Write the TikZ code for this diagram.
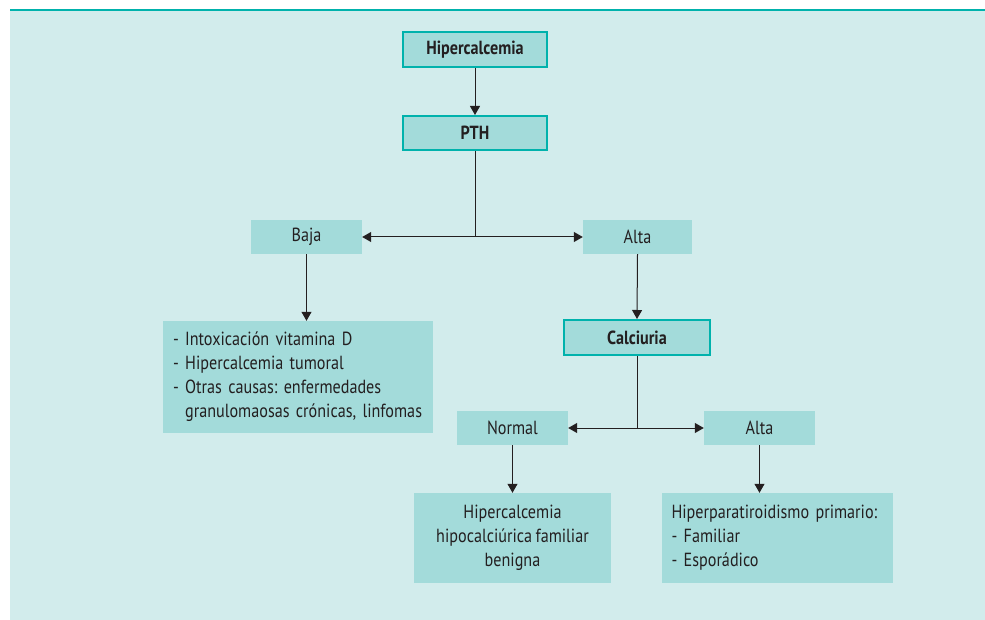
\documentclass[tikz,border=0pt]{standalone}
\usepackage{fontspec}
\setmainfont{PT Sans}[FakeStretch=0.85, WordSpace=0.8]
\usetikzlibrary{arrows.meta}
\definecolor{bgc}{HTML}{D2ECEC}
\definecolor{boxc}{HTML}{A3DBDA}
\definecolor{tealc}{HTML}{00B2AC}
\definecolor{txtc}{HTML}{231F20}
\frenchspacing
\begin{document}
\begin{tikzpicture}[x=1pt,y=-1pt,
  every node/.style={font=\fontsize{19}{24}\selectfont, text=txtc, inner sep=0pt},
  mainbox/.style={draw=tealc, line width=2pt, fill=boxc, font=\fontsize{19}{24}\selectfont\bfseries},
  plainbox/.style={fill=boxc},
  conn/.style={line width=1pt, draw=txtc},
  arr/.style={conn, -{Triangle[length=9pt,width=10pt]}}
]
\useasboundingbox (0,0) rectangle (985,620);
\fill[white] (0,0) rectangle (985,620);
\fill[bgc] (10,9) rectangle (985,620);
\draw[line width=2.5pt, tealc] (10,10) -- (985,10);

\node[mainbox, minimum width=144pt, minimum height=35pt] (hip) at (475,49.5) {Hipercalcemia};
\node[mainbox, minimum width=144pt, minimum height=34pt] (pth) at (475,133) {PTH};
\node[plainbox, minimum width=111pt, minimum height=34pt] (baja) at (306.5,237) {Baja};
\node[plainbox, minimum width=109pt, minimum height=34pt] (alta) at (637.5,237) {Alta};
\node[plainbox, minimum width=270pt, minimum height=112pt, text width=250pt, align=left] (lista) at (298,377)
  {- Intoxicación vitamina D\\- Hipercalcemia tumoral\\- Otras causas: enfermedades\\\phantom{- }granulomaosas crónicas, linfomas};
\node[mainbox, minimum width=146pt, minimum height=35pt] (calc) at (637,337.5) {Calciuria};
\node[plainbox, minimum width=111pt, minimum height=34pt] (normal) at (512.5,428) {Normal};
\node[plainbox, minimum width=111pt, minimum height=34pt] (alta2) at (759.5,428) {Alta};
\node[plainbox, minimum width=197pt, minimum height=90pt, align=center] (hhf) at (512.5,538)
  {Hipercalcemia\\hipocalciúrica familiar\\benigna};
\node[plainbox, minimum width=231pt, minimum height=90pt, text width=212pt, align=left] (hpp) at (777.5,538)
  {Hiperparatiroidismo primario:\\- Familiar\\- Esporádico};

\coordinate (j1) at (pth.south |- baja.east);
\coordinate (j2) at (calc.south |- normal.east);

\draw[arr] (hip.south) -- (pth.north);
\draw[conn] (pth.south) -- (j1);
\draw[arr] (j1) -- (baja.east);
\draw[arr] (j1) -- (alta.west);
\draw[arr] (baja.south) -- (baja.south |- lista.north);
\draw[arr] (alta.south) -- (calc.north);
\draw[conn] (calc.south) -- (j2);
\draw[arr] (j2) -- (normal.east);
\draw[arr] (j2) -- (alta2.west);
\draw[arr] (normal.south) -- (hhf.north);
\draw[arr] (alta2.south) -- (alta2.south |- hpp.north);
\end{tikzpicture}
\end{document}
